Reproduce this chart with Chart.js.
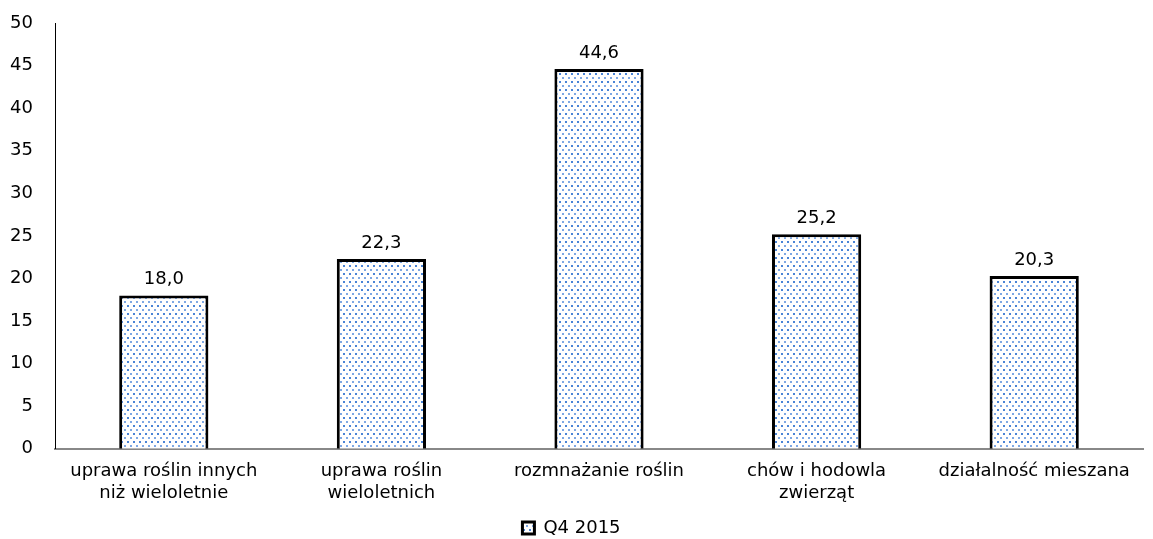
<!DOCTYPE html>
<html>
<head>
<meta charset="utf-8">
<script src="https://cdn.jsdelivr.net/npm/chart.js@4"></script>
<style>
  html, body { margin: 0; padding: 0; background: #fff; }
  #wrap { width: 1153px; height: 539px; }
</style>
</head>
<body>
<div id="wrap"><canvas id="chart"></canvas></div>
<script>
const categories = [
  ['uprawa roślin innych', 'niż wieloletnie'],
  ['uprawa roślin', 'wieloletnich'],
  'rozmnażanie roślin',
  ['chów i hodowla', 'zwierząt'],
  'działalność mieszana'
];
const seriesLabel = 'Q4 2015';
const values = [18.0, 22.3, 44.6, 25.2, 20.3];

// dotted fill like the original
function makePattern() {
  const c = document.createElement('canvas');
  c.width = 6; c.height = 8;
  const g = c.getContext('2d');
  g.fillStyle = '#fff';
  g.fillRect(0, 0, 6, 8);
  g.fillStyle = '#4a84d6';
  g.fillRect(1, 1, 2, 2);
  g.fillStyle = '#7ea8e4';
  g.fillRect(4, 5, 2, 2);
  return g.createPattern(c, 'repeat');
}

const fontFamily = '"DejaVu Sans", Verdana, sans-serif';

const valueLabels = {
  id: 'valueLabels',
  afterDatasetsDraw(chart) {
    const ctx = chart.ctx;
    ctx.save();
    ctx.font = '18px ' + fontFamily;
    ctx.fillStyle = '#000';
    ctx.textAlign = 'center';
    ctx.textBaseline = 'bottom';
    chart.getDatasetMeta(0).data.forEach((bar, i) => {
      ctx.fillText(values[i].toFixed(1).replace('.', ','), bar.x, bar.y - 7);
    });
    ctx.restore();
  }
};

new Chart(document.getElementById('chart'), {
  type: 'bar',
  data: {
    labels: categories,
    datasets: [{
      label: seriesLabel,
      data: values,
      backgroundColor: makePattern(),
      borderColor: '#000',
      borderWidth: 3,
      borderSkipped: 'bottom',
      categoryPercentage: 0.82,
      barPercentage: 0.5
    }]
  },
  options: {
    responsive: true,
    maintainAspectRatio: false,
    animation: false,
    layout: { padding: { top: 23, right: 10, left: 0, bottom: -8 } },
    plugins: {
      legend: {
        position: 'bottom',
        labels: {
          color: '#000',
          font: { family: fontFamily, size: 18 },
          boxWidth: 12,
          boxHeight: 12,
          padding: 3
        }
      },
      tooltip: { enabled: false }
    },
    scales: {
      x: {
        grid: { display: false, drawTicks: false },
        border: { color: '#888', width: 2 },
        ticks: {
          color: '#000',
          font: { family: fontFamily, size: 18 },
          maxRotation: 0,
          autoSkip: false,
          padding: 12
        }
      },
      y: {
        min: 0,
        max: 50,
        grid: { display: false, drawTicks: false },
        border: { color: '#000', width: 1 },
        ticks: {
          stepSize: 5,
          color: '#000',
          font: { family: fontFamily, size: 18 },
          padding: 22
        },
        afterFit(scale) {
          scale.width = 55;
          scale.paddingTop = 11;
          scale.paddingBottom = 11;
        }
      }
    }
  },
  plugins: [valueLabels]
});
</script>
</body>
</html>
